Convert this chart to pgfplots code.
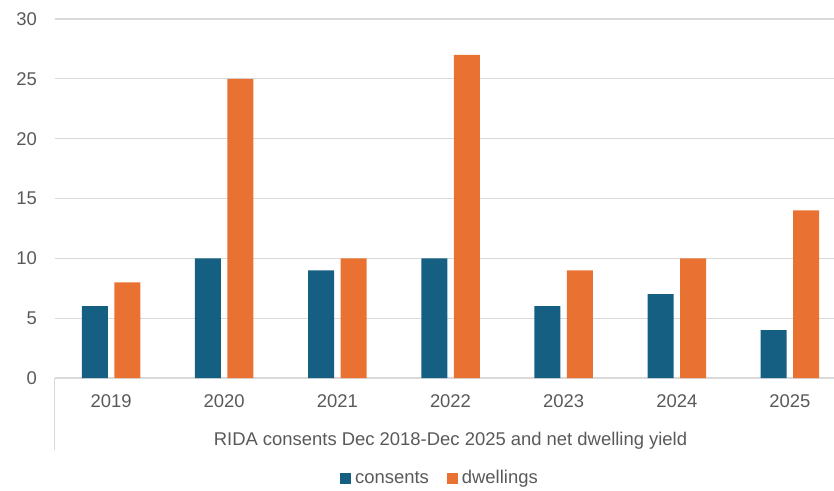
\documentclass[border=0pt]{standalone}
\usepackage{pgfplots}
\pgfplotsset{compat=1.18}
\usepackage{fontspec}
\setmainfont{Liberation Sans}
\definecolor{cons}{HTML}{156082}
\definecolor{dwel}{HTML}{E97132}
\definecolor{txt}{HTML}{595959}
\definecolor{grd}{HTML}{D9D9D9}
\begin{document}
\begin{tikzpicture}
\path[use as bounding box] (-54.5bp,-113bp) rectangle (779.5bp,378bp);
\begin{axis}[
  at={(0,0)}, anchor=south west,
  scale only axis, width=792bp, height=359bp,
  xmin=-0.5, xmax=6.5, ymin=0, ymax=30,
  ytick={0,5,10,15,20,25,30},
  xtick={0,1,2,3,4,5,6},
  xticklabels={2019,2020,2021,2022,2023,2024,2025},
  ymajorgrids, grid style={grd, line width=1.2bp},
  axis line style={draw=none},
  major tick length=0,
  ybar=6.5bp, bar width=26bp,
  /pgf/number format/assume math mode=true,
  ticklabel style={font=\fontsize{18.5}{21}\selectfont, text=txt, inner sep=0pt},
  yticklabel style={anchor=east, xshift=-17.5bp},
  xticklabel style={anchor=center, yshift=-23bp},
  clip=false,
  legend columns=2,
  legend style={at={(0.4867,-0.2786)}, anchor=center, draw=none, fill=none,
    font=\fontsize{18.5}{21}\selectfont, text=txt,
    /tikz/every odd column/.append style={column sep=2bp},
    /tikz/every even column/.append style={column sep=16bp}},
  legend image code/.code={\fill[#1] (0bp,-5.5bp) rectangle (11bp,5.5bp);},
]
\addplot[fill=cons, draw=none] coordinates {(0,6) (1,10) (2,9) (3,10) (4,6) (5,7) (6,4)};
\addplot[fill=dwel, draw=none] coordinates {(0,8) (1,25) (2,10) (3,27) (4,9) (5,10) (6,14)};
\legend{consents, dwellings}
\draw[grd, line width=1.2bp] (axis cs:-0.5,0) -- ([yshift=-72bp]axis cs:-0.5,0);
\node[anchor=base, text=txt, font=\fontsize{18.5}{21}\selectfont, inner sep=0pt]
  at (axis cs:3,0) [yshift=-67bp] {RIDA consents Dec 2018-Dec 2025 and net dwelling yield};
\end{axis}
\end{tikzpicture}
\end{document}
